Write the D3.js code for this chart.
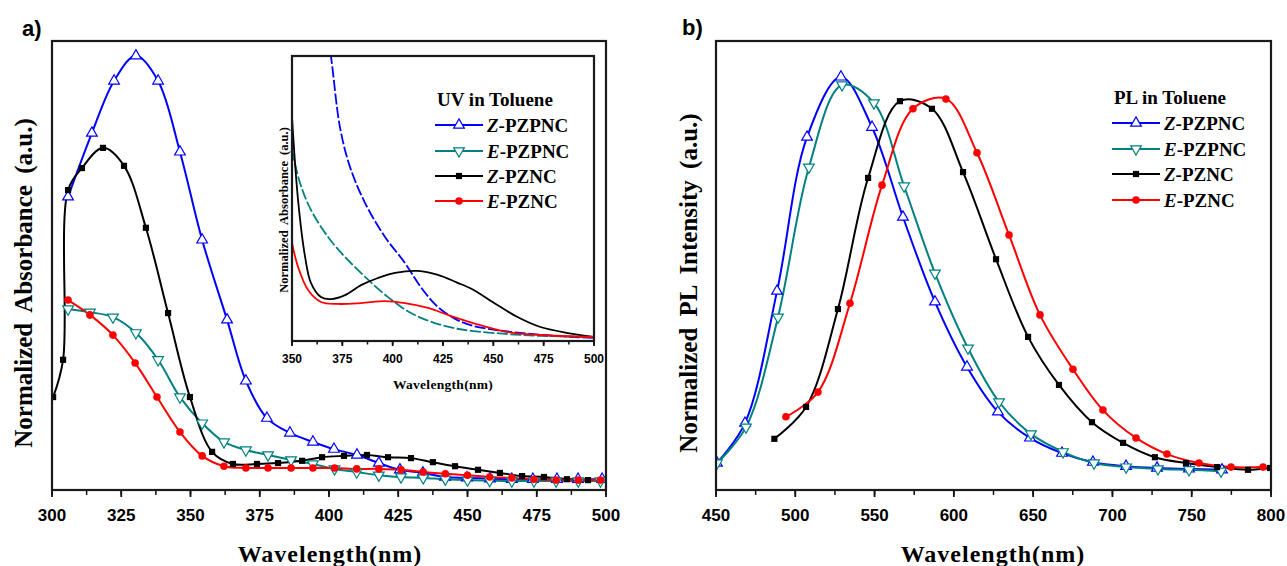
<!DOCTYPE html>
<html>
<head>
<meta charset="utf-8">
<script src="https://cdn.jsdelivr.net/npm/d3@7"></script>
<style>
  body { margin: 0; background: #fff; }
</style>
</head>
<body>
<div id="chart"></div>
<script>
/*#########
  Data
#########*/

// series names (prefix is italic)
const seriesPrefix = ['Z', 'E', 'Z', 'E'];
const seriesBase = ['PZPNC', 'PZPNC', 'PZNC', 'PZNC'];
const seriesColor = ['#0000ff', '#008080', '#000000', '#ff0000'];
const seriesSymbol = ['up', 'down', 'square', 'circle'];

// a) UV absorbance, [wavelength nm, normalized abs]
const absZPZPNC = [[305.8,0.653],[314.4,0.795],[322.4,0.911],[330.3,0.967],[338.3,0.911],[346.2,0.753],[354.2,0.557],[363.2,0.379],[370,0.243],[377.6,0.160],[385.9,0.127],[394.2,0.107],[401.8,0.091],[410.1,0.078],[418,0.060],[425.6,0.045],[433.9,0.038],[441.9,0.029],[449.8,0.027],[458.1,0.025],[466,0.024],[473.6,0.024],[482.3,0.024],[489.9,0.024],[498.6,0.024]];
const absEPZPNC = [[305.8,0.403],[313.7,0.396],[322,0.385],[330.3,0.350],[338.3,0.290],[346.2,0.207],[354.2,0.149],[362.1,0.107],[370,0.089],[378,0.078],[386.3,0.067],[394.2,0.058],[402,0.047],[410,0.040],[418,0.033],[426,0.029],[434,0.027],[442,0.024],[450,0.022],[458,0.021],[466,0.020],[474,0.020],[482,0.020],[490,0.020],[498,0.020]];
const absZPZNC = [[300.4,0.207],[304,0.290],[305.8,0.668],[310.8,0.717],[318.4,0.762],[326,0.722],[333.9,0.584],[341.9,0.394],[349.8,0.207],[357.8,0.085],[365.3,0.058],[374,0.058],[381.6,0.060],[390.3,0.065],[397.5,0.073],[405.4,0.076],[413.7,0.078],[421.3,0.073],[429.6,0.071],[437.5,0.062],[445.5,0.053],[453.8,0.045],[461.7,0.038],[469.7,0.031],[477.6,0.029],[485.9,0.024],[493.5,0.022]];
const absEPZNC = [[305.8,0.423],[313.7,0.390],[322,0.345],[330,0.283],[337.9,0.207],[346.2,0.129],[354.2,0.076],[362.1,0.053],[370,0.049],[378,0.049],[386.3,0.049],[394.2,0.049],[402,0.049],[410,0.047],[418,0.047],[426,0.045],[434,0.040],[442,0.036],[450,0.033],[458,0.029],[466,0.027],[474,0.024],[482,0.022],[490,0.022],[498,0.022]];

// a) inset, 350-500 nm
const insZPZPNC = [[366,1.15],[369.4,0.996],[373.8,0.751],[378.8,0.611],[386.3,0.484],[396.2,0.365],[406.1,0.274],[414,0.189],[422.5,0.119],[432,0.074],[440,0.053],[450,0.040],[460,0.031],[475,0.021],[490,0.014],[500,0.011]];
const insEPZPNC = [[350,0.670],[354,0.554],[359.4,0.460],[367.9,0.365],[376.3,0.295],[386.3,0.225],[397.7,0.154],[409.1,0.098],[421,0.063],[432,0.043],[440,0.035],[456,0.025],[473,0.018],[500,0.014]];
const insZPZNC = [[350,0.786],[353,0.495],[356.5,0.295],[359.4,0.204],[364.4,0.154],[369.4,0.147],[376.3,0.161],[384.3,0.196],[392.7,0.221],[401.2,0.239],[412.6,0.246],[422.5,0.232],[432,0.205],[440,0.180],[450,0.135],[462,0.084],[473,0.050],[487,0.028],[500,0.014]];
const insEPZNC = [[350,0.344],[353,0.260],[358,0.179],[364.4,0.137],[372.8,0.130],[384.3,0.133],[396.2,0.140],[406.1,0.133],[417.6,0.116],[428,0.090],[440,0.063],[456.7,0.032],[473,0.021],[500,0.014]];

// b) PL, [wavelength nm, normalized PL]
const plZPZPNC = [[450.6,0.060],[468.3,0.149],[488.5,0.443],[507.4,0.786],[528.8,0.920],[548.4,0.808],[567.9,0.608],[588.1,0.419],[608.3,0.274],[627.8,0.174],[648,0.116],[668.2,0.082],[687.7,0.062],[708.6,0.053],[728.1,0.049],[748.3,0.047],[769.1,0.045]];
const plEPZPNC = [[450.6,0.060],[468.9,0.140],[489.1,0.385],[508.6,0.719],[529.5,0.902],[549.6,0.862],[568.6,0.677],[588.1,0.483],[608.9,0.316],[628.5,0.196],[648.6,0.125],[668.8,0.085],[688.4,0.060],[708.6,0.051],[728.7,0.047],[748.3,0.045],[768.5,0.042]];
const plZPZNC = [[486.8,0.114],[506.8,0.185],[526.9,0.403],[545.9,0.695],[566,0.866],[586.2,0.849],[605.8,0.708],[626.6,0.514],[646.8,0.341],[666.3,0.234],[687.1,0.151],[706.7,0.105],[726.8,0.073],[746.4,0.060],[766,0.051],[785.5,0.045],[799.4,0.049]];
const plEPZNC = [[494.1,0.163],[514.3,0.218],[534.5,0.416],[554.7,0.679],[574.2,0.849],[595,0.871],[614.6,0.751],[634.8,0.568],[654.3,0.390],[675.1,0.269],[694,0.178],[714.9,0.116],[734.4,0.080],[754.6,0.060],[774.8,0.051],[795,0.051]];

// ticks
const ticksA = [300, 325, 350, 375, 400, 425, 450, 475, 500];
const ticksInset = [350, 375, 400, 425, 450, 475, 500];
const ticksB = [450, 500, 550, 600, 650, 700, 750, 800];

/*#########
  Global
#########*/
const serif = '"Liberation Serif","Times New Roman",serif';
const sans = '"Liberation Sans",Arial,sans-serif';

const svg = d3.select('#chart')
    .append('svg')
    .attr('width', 1287)
    .attr('height', 566)
    .style('background', '#fff');

//Scales
const xA = d3.scaleLinear().domain([300, 500]).range([52, 606]);
const yA = d3.scaleLinear().domain([0, 1]).range([490, 41]);
const xI = d3.scaleLinear().domain([350, 500]).range([292, 594]);
const yI = d3.scaleLinear().domain([0, 1]).range([341, 56]);
const xB = d3.scaleLinear().domain([450, 800]).range([716, 1271]);
const yB = d3.scaleLinear().domain([0, 1]).range([490, 41]);

/*####### Functions #######*/

function symbolPath(type, size) {
    if (type === 'up' || type === 'down') return d3.symbol(d3.symbolTriangle, size * 1.1)();
    if (type === 'square') return d3.symbol(d3.symbolSquare, size * 0.85)();
    return d3.symbol(d3.symbolCircle, size)();
}

function drawMarkers(g, data, x, y, i, size) {
    const type = seriesSymbol[i];
    const open = type === 'up' || type === 'down';
    g.selectAll(null)
        .data(data)
        .join('path')
        .attr('d', symbolPath(type, size))
        .attr('transform', d => 'translate(' + x(d[0]) + ',' + y(d[1]) + ')' + (type === 'down' ? ' rotate(180)' : ''))
        .attr('fill', open ? '#fff' : seriesColor[i])
        .attr('stroke', seriesColor[i])
        .attr('stroke-width', open ? 1.2 : 0);
}

function drawLine(g, data, x, y, i, width, dash) {
    const line = d3.line()
        .x(d => x(d[0]))
        .y(d => y(d[1]))
        .curve(d3.curveCatmullRom.alpha(0.5));
    g.append('path')
        .datum(data)
        .attr('d', line)
        .attr('fill', 'none')
        .attr('stroke', seriesColor[i])
        .attr('stroke-width', width)
        .attr('stroke-dasharray', dash || null);
}

function drawFrame(x, y, majors, minorStep, fontSize, labelY, tickLen) {
    const [x0, x1] = x.range();
    const [y0, y1] = y.range();
    const g = svg.append('g');
    //minor ticks
    const minors = d3.range(x.domain()[0], x.domain()[1] + 0.001, minorStep);
    g.selectAll(null).data(minors).join('line')
        .attr('x1', d => x(d)).attr('x2', d => x(d))
        .attr('y1', y0).attr('y2', y0 + tickLen * 0.7)
        .attr('stroke', '#111').attr('stroke-width', 1.5);
    g.selectAll(null).data(majors).join('line')
        .attr('x1', d => x(d)).attr('x2', d => x(d))
        .attr('y1', y0).attr('y2', y0 + tickLen)
        .attr('stroke', '#111').attr('stroke-width', 1.8);
    g.selectAll(null).data(majors).join('text')
        .attr('x', d => x(d))
        .attr('y', labelY)
        .attr('text-anchor', 'middle')
        .style('font-family', sans)
        .style('font-weight', 'bold')
        .style('font-size', fontSize + 'px')
        .text(d => d);
    g.append('rect')
        .attr('x', x0).attr('y', y1)
        .attr('width', x1 - x0).attr('height', y0 - y1)
        .attr('fill', 'none')
        .attr('stroke', '#1a1a1a')
        .attr('stroke-width', 2.2);
}

function clip(id, x, y) {
    const [x0, x1] = x.range();
    const [y0, y1] = y.range();
    svg.append('clipPath').attr('id', id)
        .append('rect')
        .attr('x', x0).attr('y', y1)
        .attr('width', x1 - x0).attr('height', y0 - y1);
    return svg.append('g').attr('clip-path', 'url(#' + id + ')');
}

function legend(title, tx, ty, lx, rows) {
    const g = svg.append('g')
        .style('font-family', serif)
        .style('font-weight', 'bold')
        .style('font-size', '19px');
    g.append('text').attr('x', tx).attr('y', ty).text(title);
    seriesBase.forEach((name, i) => {
        const cy = rows[i];
        g.append('line')
            .attr('x1', lx).attr('x2', lx + 48)
            .attr('y1', cy).attr('y2', cy)
            .attr('stroke', seriesColor[i]).attr('stroke-width', 2);
        drawMarkers(g, [[0, 0]], () => lx + 24, () => cy, i, 45);
        const t = g.append('text').attr('x', lx + 52).attr('y', cy + 6.5);
        t.append('tspan').style('font-style', 'italic').text(seriesPrefix[i]);
        t.append('tspan').text('-' + name);
    });
}

function rotatedTitle(txt, x, y, size, ws) {
    svg.append('text')
        .attr('transform', 'translate(' + x + ',' + y + ') rotate(-90)')
        .attr('text-anchor', 'middle')
        .style('font-family', serif)
        .style('font-weight', 'bold')
        .style('font-size', size + 'px')
        .style('word-spacing', ws + 'px')
        .text(txt);
}

function xTitle(txt, x, y, size, ls) {
    svg.append('text')
        .attr('x', x).attr('y', y)
        .attr('text-anchor', 'middle')
        .style('font-family', serif)
        .style('font-weight', 'bold')
        .style('font-size', size + 'px')
        .style('letter-spacing', ls + 'px')
        .text(txt);
}

/*############
  Panel a
############*/
const absData = [absZPZPNC, absEPZPNC, absZPZNC, absEPZNC];
const gA = clip('clipA', xA, yA);
absData.forEach((d, i) => drawLine(gA, d, xA, yA, i, 2));
absData.forEach((d, i) => drawMarkers(gA, d, xA, yA, i, 45));
drawFrame(xA, yA, ticksA, 12.5, 17, 521, 7);

//Inset
svg.append('rect')
    .attr('x', xI.range()[0]).attr('y', yI.range()[1])
    .attr('width', xI.range()[1] - xI.range()[0])
    .attr('height', yI.range()[0] - yI.range()[1])
    .attr('fill', '#fff');
const insData = [insZPZPNC, insEPZPNC, insZPZNC, insEPZNC];
const gI = clip('clipI', xI, yI);
insData.forEach((d, i) => drawLine(gI, d, xI, yI, i, 1.8, i < 2 ? '11,2.5' : null));
drawFrame(xI, yI, ticksInset, 12.5, 12, 363, 5);
xTitle('Wavelength(nm)', 443, 389, 13.5, 0.3);
rotatedTitle('Normalized Absorbance (a.u.)', 288, 210, 12.5, 3);

legend('UV in Toluene', 437, 106, 435, [125, 151, 176, 201]);

rotatedTitle('Normalized Absorbance (a.u.)', 32, 283, 25, 5);
xTitle('Wavelength(nm)', 330, 562, 24, 1);

svg.append('text').attr('x', 22).attr('y', 36)
    .style('font-family', sans).style('font-weight', 'bold').style('font-size', '22px')
    .text('a)');

/*############
  Panel b
############*/
const plData = [plZPZPNC, plEPZPNC, plZPZNC, plEPZNC];
const gB = clip('clipB', xB, yB);
plData.forEach((d, i) => drawLine(gB, d, xB, yB, i, 2));
plData.forEach((d, i) => drawMarkers(gB, d, xB, yB, i, 45));
drawFrame(xB, yB, ticksB, 25, 17, 521, 7);

legend('PL in Toluene', 1114, 104, 1112, [123, 149, 174, 200]);

rotatedTitle('Normalized PL Intensity (a.u.)', 697, 283, 25, 5);
xTitle('Wavelength(nm)', 993, 562, 24, 1);

svg.append('text').attr('x', 682).attr('y', 35)
    .style('font-family', sans).style('font-weight', 'bold').style('font-size', '22px')
    .text('b)');
</script>
</body>
</html>
